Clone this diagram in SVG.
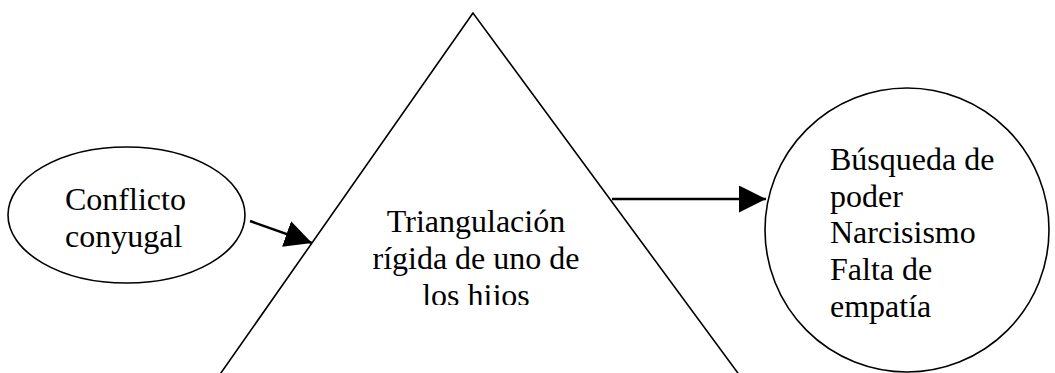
<svg xmlns="http://www.w3.org/2000/svg" width="1055" height="373" viewBox="0 0 1055 373">
<style>
.shape{fill:#fff;stroke:#000;stroke-width:1.6}
.lbl{font-family:"Liberation Serif","Times New Roman",serif;font-size:32px;fill:#000}
.conn{stroke:#000;stroke-width:2.4;fill:none}
</style>
<defs>
<marker id="ah" markerUnits="userSpaceOnUse" markerWidth="28" markerHeight="28" refX="27" refY="13.5" orient="auto">
<path d="M0,0 L27,13.5 L0,27 Z" fill="#000"/>
</marker>
<clipPath id="triclip"><rect x="300" y="190" width="360" height="115"/></clipPath>
</defs>
<rect width="1055" height="373" fill="#fff"/>
<g id="node-conflicto">
<ellipse class="shape" cx="126.5" cy="215" rx="118.5" ry="68"/>
<text class="lbl" x="65" y="210">Conflicto</text>
<text class="lbl" x="65" y="247">conyugal</text>
</g>
<g id="node-triangulacion">
<polygon class="shape" points="473,13 216,380 743,380"/>
<g clip-path="url(#triclip)">
<text class="lbl" text-anchor="middle" x="476" y="232">Triangulación</text>
<text class="lbl" text-anchor="middle" x="476" y="269">rígida de uno de</text>
<text class="lbl" text-anchor="middle" x="476" y="306">los hijos</text>
</g>
</g>
<g id="node-busqueda">
<circle class="shape" cx="907" cy="230" r="142"/>
<text class="lbl" x="830" y="170">Búsqueda de</text>
<text class="lbl" x="830" y="207">poder</text>
<text class="lbl" x="830" y="243">Narcisismo</text>
<text class="lbl" x="830" y="280">Falta de</text>
<text class="lbl" x="830" y="317">empatía</text>
</g>
<g id="connectors">
<line class="conn" x1="250" y1="221" x2="312" y2="243" marker-end="url(#ah)"/>
<line class="conn" x1="612" y1="199" x2="766" y2="199" marker-end="url(#ah)"/>
</g>
</svg>
